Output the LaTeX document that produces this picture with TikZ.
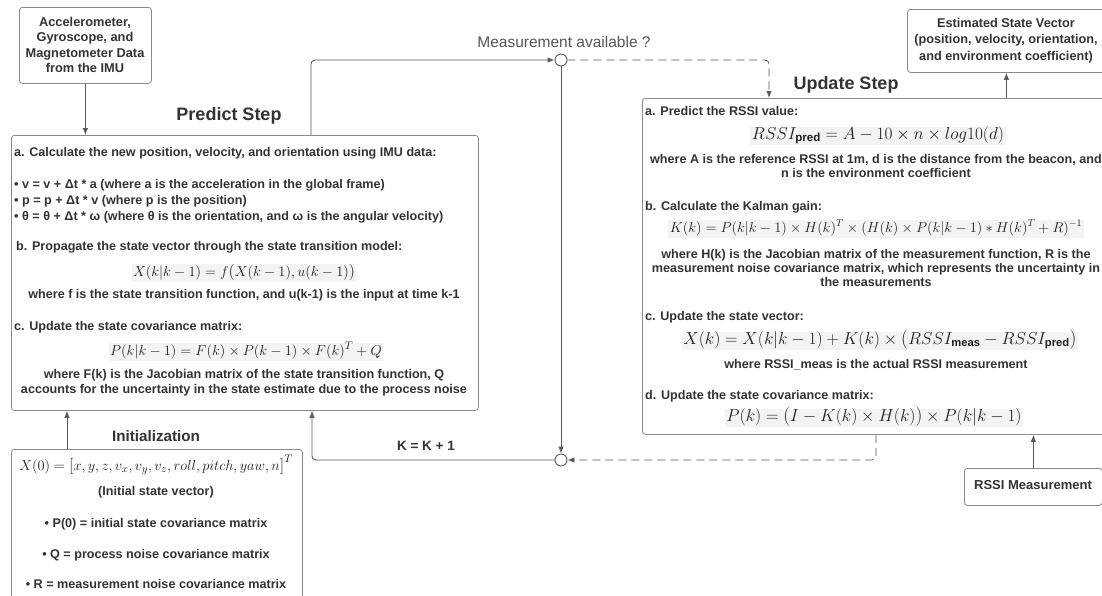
\documentclass[tikz,border=0pt]{standalone}
\usepackage{amsmath}
\usepackage{fontspec}
\setmainfont{Liberation Sans}
\usetikzlibrary{arrows.meta,calc}
\definecolor{txt}{HTML}{333333}
\definecolor{mtxt}{HTML}{1E1E1E}
\definecolor{edge}{HTML}{8A8A8A}
\definecolor{lin}{HTML}{5A5A5A}
\definecolor{mbg}{HTML}{F3F3F3}
\definecolor{lbl}{HTML}{555555}
\newcommand{\bpo}{\mathopen{\raisebox{-0.5pt}{\scalebox{1.12}{$($}}}}
\newcommand{\bpc}{\mathclose{\raisebox{-0.5pt}{\scalebox{1.12}{$)$}}}}
\newcommand{\bbo}{\mathopen{\raisebox{-0.5pt}{\scalebox{1.12}{$[$}}}}
\newcommand{\bbc}{\mathclose{\raisebox{-0.5pt}{\scalebox{1.12}{$]$}}}}
\tikzset{
  box/.style={draw=edge, line width=0.8pt, rounded corners=3pt, fill=white, anchor=north west, inner sep=0pt},
  t/.style={font=\bfseries\fontsize{12.6}{14}\selectfont, text=txt, inner sep=0pt, text height=9.5pt, text depth=3pt},
  tl/.style={t, anchor=west},
  fm/.style={fill=mbg, inner sep=1.5pt, text=mtxt, font=\fontsize{16}{18}\selectfont, text height=10.5pt, text depth=4.5pt},
  ttl/.style={font=\bfseries\fontsize{18}{20}\selectfont, text=txt, inner sep=0pt},
  conn/.style={draw=lin, line width=0.9pt, rounded corners=4pt},
  arr/.style={-{Latex[length=7pt,width=5.5pt]}},
  dsh/.style={dash pattern=on 8pt off 5pt},
  junction/.style={circle, draw=lin, fill=white, minimum size=12pt, inner sep=0pt, line width=0.9pt},
}
\begin{document}
\begin{tikzpicture}[x=1pt,y=-1pt]
\clip (0,0) rectangle (1102,595);
\fill[white] (0,0) rectangle (1102,595);

% boxes
\node[box, minimum width=132pt, minimum height=76pt] (imu) at (19,7) {};
\node[box, minimum width=467pt, minimum height=275pt] (pred) at (11,135) {};
\node[box, minimum width=291pt, minimum height=170pt] (init) at (11,449) {};
\node[box, minimum width=470pt, minimum height=336pt] (upd) at (642,98) {};
\node[box, minimum width=198pt, minimum height=63pt] (est) at (907,9) {};
\node[box, minimum width=138pt, minimum height=37pt] (rssi) at (964,468) {};

% junctions
\node[junction] (c1) at (561,60) {};
\node[junction] (c2) at (561,460) {};

% box texts
\node[t, align=center, font=\bfseries\fontsize{12.8}{15.3}\selectfont, text height=, text depth=] (imut) at (85,45) {Accelerometer,\\Gyroscope, and\\Magnetometer Data\\from the IMU};
\node[t, align=center, font=\bfseries\fontsize{12.7}{16.5}\selectfont, text height=, text depth=] (estt) at (1006,40.5) {Estimated State Vector\\(position, velocity, orientation,\\and environment coefficient)};
\node[t, font=\bfseries\fontsize{13}{15}\selectfont] (rssit) at (1033,486) {RSSI Measurement};

% titles
\node[ttl] (tpred) at (229,116) {Predict Step};
\node[ttl] (tupd) at (846,85) {Update Step};
\node[ttl, font=\bfseries\fontsize{15.2}{17}\selectfont] (tinit) at (156,436) {Initialization};

% predict step text
\node[tl] (pa) at (14,153) {a. Calculate the new position, velocity, and orientation using IMU data:};
\node[tl] (pa1) at (14,185) {• v = v + Δt * a (where a is the acceleration in the global frame)};
\node[tl] (pa2) at (14,201) {• p = p + Δt * v (where p is the position)};
\node[tl] (pa3) at (14,217) {• θ = θ + Δt * ω (where θ is the orientation, and ω is the angular velocity)};
\node[tl] (pb) at (16,247) {b. Propagate the state vector through the state transition model:};
\node[fm, font=\fontsize{15.8}{18}\selectfont] (pbf) at (244,273) {$X(k|k-1)=f\bpo X(k-1),u(k-1)\bpc$};
\node[t] (pbw) at (244,295) {where f is the state transition function, and u(k-1) is the input at time k-1};
\node[tl] (pc) at (14,327) {c. Update the state covariance matrix:};
\node[fm, font=\fontsize{15}{17}\selectfont] (pcf) at (246,352) {$P(k|k-1)=F(k)\times P(k-1)\times F(k)^T+Q$};
\node[t] (pcw1) at (244,375) {where F(k) is the Jacobian matrix of the state transition function, Q};
\node[t] (pcw2) at (244,390) {accounts for the uncertainty in the state estimate due to the process noise};

% update step text
\node[tl] (ua) at (645,112) {a. Predict the RSSI value:};
\node[fm, font=\fontsize{16.5}{18}\selectfont] (uaf) at (878,136) {$RSSI_{\mathbf{pred}}=A-10\times n\times log10(d)$};
\node[t] (uaw1) at (876,160) {where A is the reference RSSI at 1m, d is the distance from the beacon, and};
\node[t] (uaw2) at (876,174) {n is the environment coefficient};
\node[tl] (ub) at (645,207) {b. Calculate the Kalman gain:};
\node[fm, font=\fontsize{14.4}{16}\selectfont] (ubf) at (876,229) {$K(k)=P(k|k-1)\times H(k)^T\times(H(k)\times P(k|k-1)*H(k)^T+R)^{-1}$};
\node[t] (ubw1) at (876,255) {where H(k) is the Jacobian matrix of the measurement function, R is the};
\node[t] (ubw2) at (876,269) {measurement noise covariance matrix, which represents the uncertainty in};
\node[t] (ubw3) at (876,283) {the measurements};
\node[tl] (uc) at (645,317) {c. Update the state vector:};
\node[fm] (ucf) at (880,341) {$X(k)=X(k|k-1)+K(k)\times\bpo RSSI_{\mathbf{meas}}-RSSI_{\mathbf{pred}}\bpc$};
\node[t] (ucw) at (876,365) {where RSSI\_meas is the actual RSSI measurement};
\node[tl] (ud) at (645,396) {d. Update the state covariance matrix:};
\node[fm] (udf) at (874,418) {$P(k)=\bpo I-K(k)\times H(k)\bpc\times P(k|k-1)$};

% initialization text
\node[fm, fill=none, font=\fontsize{15}{17}\selectfont, inner sep=0pt] (if) at (156,467) {$X(0)=\bbo x,y,z,v_x,v_y,v_z,roll,pitch,yaw,n\bbc^T$};
\node[t] (iv) at (156,492) {(Initial state vector)};
\node[t] (ip) at (156,524) {• P(0) = initial state covariance matrix};
\node[t] (iq) at (156,555) {• Q = process noise covariance matrix};
\node[t] (ir) at (156,585) {• R = measurement noise covariance matrix};

% labels
\node[font=\fontsize{15.5}{17}\selectfont, text=lbl, inner sep=0pt] (lmeas) at (564,42) {Measurement available ?};
\node[t, font=\bfseries\fontsize{13.5}{15}\selectfont] (lk) at (426,447) {K = K + 1};

% connectors
\coordinate (ptop) at ($(pred.north west)+(300,0)$);
\coordinate (pbot) at ($(pred.south west)+(301,0)$);
\coordinate (pinit) at ($(pred.south west)+(56,0)$);
\coordinate (itop) at ($(init.north west)+(56,0)$);
\coordinate (utop) at ($(upd.north west)+(127,0)$);
\coordinate (ubot) at ($(upd.south west)+(234,0)$);

\draw[conn,arr] (imu.south) -- (imu.south |- pred.north);
\draw[conn,arr] (ptop) |- (c1.west);
\draw[conn,arr,dsh] (c1.east) -| (utop);
\draw[conn,arr] (c1.south) -- (c2.north);
\draw[conn,arr,dsh] (ubot) |- (c2.east);
\draw[conn,arr] (c2.west) -| (pbot);
\draw[conn,arr] (itop) -- (pinit);
\draw[conn,arr] (upd.north -| est.south) -- (est.south);
\draw[conn,arr] (rssi.north) -- (rssi.north |- upd.south);
\end{tikzpicture}
\end{document}
